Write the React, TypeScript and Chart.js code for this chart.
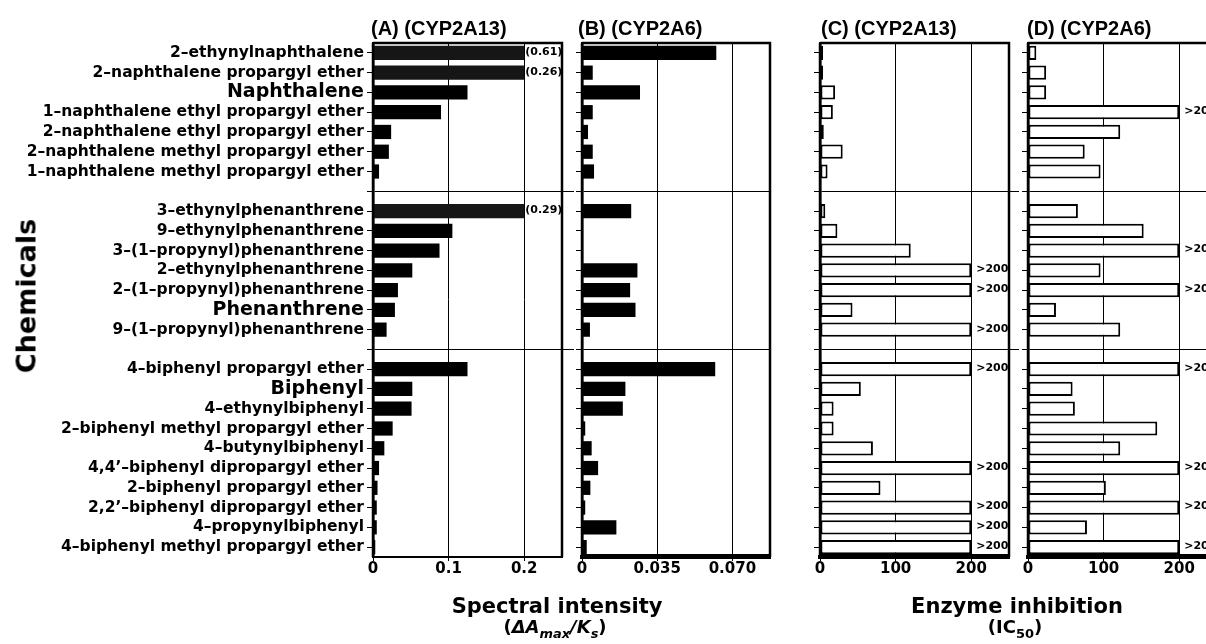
import React, { useEffect, useRef } from "react";
import { Chart, registerables } from "chart.js";

Chart.register(...registerables);

// ---------- data ----------
const categories: string[] = [
  "2–ethynylnaphthalene",
  "2–naphthalene propargyl ether",
  "Naphthalene",
  "1–naphthalene ethyl propargyl ether",
  "2–naphthalene ethyl propargyl ether",
  "2–naphthalene methyl propargyl ether",
  "1–naphthalene methyl propargyl ether",
  "",
  "3–ethynylphenanthrene",
  "9–ethynylphenanthrene",
  "3–(1–propynyl)phenanthrene",
  "2–ethynylphenanthrene",
  "2–(1–propynyl)phenanthrene",
  "Phenanthrene",
  "9–(1–propynyl)phenanthrene",
  "",
  "4–biphenyl propargyl ether",
  "Biphenyl",
  "4–ethynylbiphenyl",
  "2–biphenyl methyl propargyl ether",
  "4–butynylbiphenyl",
  "4,4’–biphenyl dipropargyl ether",
  "2–biphenyl propargyl ether",
  "2,2’–biphenyl dipropargyl ether",
  "4–propynylbiphenyl",
  "4–biphenyl methyl propargyl ether",
];

const parentNames: string[] = ["Naphthalene", "Phenanthrene", "Biphenyl"];

// (A) CYP2A13 spectral intensity (ΔAmax/Ks); values above the cap are drawn clipped
const spectralA: (number | null)[] = [
  0.61, 0.26, 0.125, 0.09, 0.024, 0.021, 0.008, null,
  0.29, 0.105, 0.088, 0.052, 0.033, 0.029, 0.018, null,
  0.125, 0.052, 0.051, 0.026, 0.015, 0.008, 0.006, 0.005, 0.005, 0.003,
];
const capA = 0.2;

// (B) CYP2A6 spectral intensity
const spectralB: (number | null)[] = [
  0.0625, 0.005, 0.027, 0.005, 0.0028, 0.005, 0.0056, null,
  0.0229, 0, 0, 0.0258, 0.0224, 0.0249, 0.0037, null,
  0.062, 0.0202, 0.019, 0.0015, 0.0045, 0.0075, 0.0039, 0.0015, 0.016, 0.0022,
];

// (C) CYP2A13 IC50
const ic50C: (number | string | null)[] = [
  4, 4, 20, 17, 5, 30, 10, null,
  7, 23, 120, ">200", ">200", 43, ">200", null,
  ">200", 54, 18, 18, 70, ">200", 80, ">200", ">200", ">200",
];

// (D) CYP2A6 IC50
const ic50D: (number | string | null)[] = [
  11, 24, 24, ">200", 122, 75, 96, null,
  66, 153, ">200", 96, ">200", 37, 122, null,
  ">200", 59, 62, 171, 122, ">200", 103, ">200", 78, ">200",
];

const ticksA = [0, 0.1, 0.2];
const tickLabelsA = ["0", "0.1", "0.2"];
const ticksB = [0, 0.035, 0.07];
const tickLabelsB = ["0", "0.035", "0.070"];
const ticksIC = [0, 100, 200];
const tickLabelsIC = ["0", "100", "200"];

// ---------- layout ----------
const H = 644;
const AREA_TOP = 43;
const AREA_BOTTOM = 557;
const XAXIS_H = 30;
const FONT = "'DejaVu Sans', Verdana, sans-serif";
const TITLE_FONT = "'Liberation Sans', Arial, sans-serif";

type PanelCfg = {
  id: string;
  left: number;
  width: number;
  areaLeft: number;
  areaRight: number;
  max: number;
  display: (number | null)[];
  labels: string[];
  fills: string[];
  outlined: boolean;
  ticks: number[];
  tickLabels: string[];
  showY: boolean;
  bottomW: number;
  labelGap: number;
  labelSize: number;
  sepExtend: number;
};

const capDisplay = (arr: (number | null)[], cap: number) =>
  arr.map((v) => (v === null ? null : Math.min(v, cap)));
const capLabels = (arr: (number | null)[], cap: number) =>
  arr.map((v) => (v !== null && v > cap ? `(${v})` : ""));
const icDisplay = (arr: (number | string | null)[]) =>
  arr.map((v) => (v === null ? null : v === ">200" ? 200 : (v as number)));
const icLabels = (arr: (number | string | null)[]) =>
  arr.map((v) => (v === ">200" ? ">200" : ""));

const panels: PanelCfg[] = [
  {
    id: "A",
    left: 0,
    width: 575,
    areaLeft: 373,
    areaRight: 562,
    max: 0.25,
    display: capDisplay(spectralA, capA),
    labels: capLabels(spectralA, capA),
    fills: spectralA.map((v) => (v !== null && v > capA ? "#161616" : "#000")),
    outlined: false,
    ticks: ticksA,
    tickLabels: tickLabelsA,
    showY: true,
    bottomW: 2,
    labelGap: 1,
    labelSize: 11,
    sepExtend: 12,
  },
  {
    id: "B",
    left: 565,
    width: 225,
    areaLeft: 582,
    areaRight: 770,
    max: 0.0875,
    display: spectralB,
    labels: spectralB.map(() => ""),
    fills: spectralB.map(() => "#000"),
    outlined: false,
    ticks: ticksB,
    tickLabels: tickLabelsB,
    showY: false,
    bottomW: 4,
    labelGap: 2,
    labelSize: 11,
    sepExtend: 0,
  },
  {
    id: "C",
    left: 800,
    width: 230,
    areaLeft: 820,
    areaRight: 1009,
    max: 250,
    display: icDisplay(ic50C),
    labels: icLabels(ic50C),
    fills: ic50C.map(() => "#fff"),
    outlined: true,
    ticks: ticksIC,
    tickLabels: tickLabelsIC,
    showY: false,
    bottomW: 4,
    labelGap: 5,
    labelSize: 11,
    sepExtend: 10,
  },
  {
    id: "D",
    left: 1010,
    width: 280,
    areaLeft: 1028,
    areaRight: 1217,
    max: 250,
    display: icDisplay(ic50D),
    labels: icLabels(ic50D),
    fills: ic50D.map(() => "#fff"),
    outlined: true,
    ticks: ticksIC,
    tickLabels: tickLabelsIC,
    showY: false,
    bottomW: 4,
    labelGap: 5,
    labelSize: 11,
    sepExtend: 0,
  },
];

function Panel({ cfg }: { cfg: PanelCfg }) {
  const ref = useRef<HTMLCanvasElement>(null);

  useEffect(() => {
    if (!ref.current) return;
    const yWidth = cfg.areaLeft - cfg.left;
    const padRight = cfg.left + cfg.width - cfg.areaRight;

    const decor = {
      id: "decor" + cfg.id,
      afterDatasetsDraw(chart: any) {
        const ctx = chart.ctx;
        const meta = chart.getDatasetMeta(0);
        ctx.save();
        ctx.fillStyle = "#000";
        ctx.font = `bold ${cfg.labelSize}px ${FONT}`;
        ctx.textAlign = "left";
        ctx.textBaseline = "middle";
        cfg.labels.forEach((lab, i) => {
          if (!lab) return;
          const el = meta.data[i];
          if (!el) return;
          ctx.fillText(lab, el.x + cfg.labelGap, el.y - 1);
        });
        ctx.restore();
      },
      afterDraw(chart: any) {
        const ctx = chart.ctx;
        const a = chart.chartArea;
        ctx.save();
        ctx.strokeStyle = "#000";
        ctx.lineWidth = 2.5;
        ctx.beginPath();
        ctx.moveTo(a.left, a.top);
        ctx.lineTo(a.right, a.top);
        ctx.lineTo(a.right, a.bottom);
        ctx.stroke();
        ctx.beginPath();
        ctx.moveTo(a.left, a.top);
        ctx.lineTo(a.left, a.bottom);
        ctx.stroke();
        ctx.lineWidth = cfg.bottomW;
        ctx.beginPath();
        ctx.moveTo(a.left - 1, a.bottom - cfg.bottomW / 2 + 1);
        ctx.lineTo(a.right + 1, a.bottom - cfg.bottomW / 2 + 1);
        ctx.stroke();
        if (cfg.sepExtend > 0) {
          const ys = chart.scales.y;
          ctx.lineWidth = 1;
          categories.forEach((c, i) => {
            if (c !== "") return;
            const y = Math.round(ys.getPixelForValue(i)) + 0.5;
            ctx.beginPath();
            ctx.moveTo(a.right, y);
            ctx.lineTo(a.right + cfg.sepExtend, y);
            ctx.stroke();
          });
        }
        ctx.restore();
      },
    };

    const chart = new Chart(ref.current, {
      type: "bar",
      data: {
        labels: categories,
        datasets: [
          {
            data: cfg.display as any,
            backgroundColor: cfg.fills,
            borderColor: "#000",
            borderWidth: cfg.outlined ? 2 : 0,
            borderSkipped: false,
            barPercentage: 0.72,
            categoryPercentage: 1,
          },
        ],
      },
      options: {
        indexAxis: "y",
        responsive: false,
        animation: false,
        events: [],
        layout: {
          padding: {
            left: 0,
            right: padRight,
            top: AREA_TOP,
            bottom: H - AREA_BOTTOM - XAXIS_H,
          },
        },
        plugins: {
          legend: { display: false },
          tooltip: { enabled: false },
          title: { display: false },
        },
        scales: {
          x: {
            type: "linear",
            min: 0,
            max: cfg.max,
            afterBuildTicks: (s: any) => {
              s.ticks = cfg.ticks.map((v) => ({ value: v }));
            },
            afterFit: (s: any) => {
              s.height = XAXIS_H;
            },
            grid: {
              color: "#000",
              lineWidth: 1,
              drawTicks: true,
              tickLength: 4,
              tickColor: "#000",
            },
            border: { display: true, color: "#000", width: cfg.bottomW },
            ticks: {
              color: "#000",
              padding: -1,
              maxRotation: 0,
              autoSkip: false,
              font: { family: FONT, weight: "bold", size: 15 },
              callback: (v: any) => {
                const idx = cfg.ticks.indexOf(Number(v));
                return idx >= 0 ? cfg.tickLabels[idx] : "";
              },
            },
          },
          y: {
            type: "category",
            offset: true,
            afterFit: (s: any) => {
              s.width = yWidth;
            },
            grid: {
              offset: false,
              drawTicks: true,
              tickLength: 6,
              lineWidth: 1,
              color: (c: any) =>
                categories[c.index] === "" ? "#000" : "rgba(0,0,0,0)",
              tickColor: "#000",
            },
            border: { display: true, color: "#000", width: 2.5 },
            ticks: {
              display: cfg.showY,
              autoSkip: false,
              color: "#000",
              padding: 3,
              font: (c: any) => ({
                family: FONT,
                weight: "bold",
                size: parentNames.includes(c.tick && c.tick.label) ? 19 : 15.5,
              }),
            },
          },
        },
      },
      plugins: [decor],
    } as any);

    return () => chart.destroy();
  }, [cfg]);

  return (
    <canvas
      ref={ref}
      width={cfg.width}
      height={H}
      style={{
        position: "absolute",
        left: cfg.left,
        top: 0,
        width: cfg.width,
        height: H,
      }}
    />
  );
}

const titleStyle: React.CSSProperties = {
  position: "absolute",
  top: 18,
  font: `bold 20px ${TITLE_FONT}`,
  lineHeight: "20px",
  whiteSpace: "nowrap",
  color: "#000",
};

const axisTitleStyle: React.CSSProperties = {
  position: "absolute",
  width: 320,
  textAlign: "center",
  font: `bold 21px ${FONT}`,
  lineHeight: "24px",
  whiteSpace: "nowrap",
  color: "#000",
};

const subStyle: React.CSSProperties = {
  fontSize: "0.72em",
  lineHeight: 0,
  verticalAlign: "-0.35em",
};

export default function App() {
  return (
    <div
      style={{
        position: "absolute",
        left: 0,
        top: 0,
        width: 1206,
        height: 644,
        overflow: "hidden",
        background: "#fff",
      }}
    >
      {panels.map((p) => (
        <Panel key={p.id} cfg={p} />
      ))}

      <div style={{ ...titleStyle, left: 371 }}>(A) (CYP2A13)</div>
      <div style={{ ...titleStyle, left: 578 }}>(B) (CYP2A6)</div>
      <div style={{ ...titleStyle, left: 821 }}>(C) (CYP2A13)</div>
      <div style={{ ...titleStyle, left: 1027 }}>(D) (CYP2A6)</div>

      <div
        style={{
          position: "absolute",
          left: 26,
          top: 296,
          transform: "translate(-50%, -50%) rotate(-90deg)",
          font: `bold 27px ${FONT}`,
          whiteSpace: "nowrap",
          color: "#000",
        }}
      >
        Chemicals
      </div>

      <div style={{ ...axisTitleStyle, left: 557 - 160, top: 594 }}>
        Spectral intensity
      </div>
      <div
        style={{
          ...axisTitleStyle,
          left: 555 - 160,
          top: 617,
          fontSize: 18,
          lineHeight: "20px",
        }}
      >
        (
        <i>
          ΔA<span style={subStyle}>max</span>/K<span style={subStyle}>s</span>
        </i>
        )
      </div>

      <div style={{ ...axisTitleStyle, left: 1017 - 160, top: 594 }}>
        Enzyme inhibition
      </div>
      <div
        style={{
          ...axisTitleStyle,
          left: 1015 - 160,
          top: 617,
          fontSize: 18,
          lineHeight: "20px",
        }}
      >
        (IC<span style={subStyle}>50</span>)
      </div>
    </div>
  );
}
